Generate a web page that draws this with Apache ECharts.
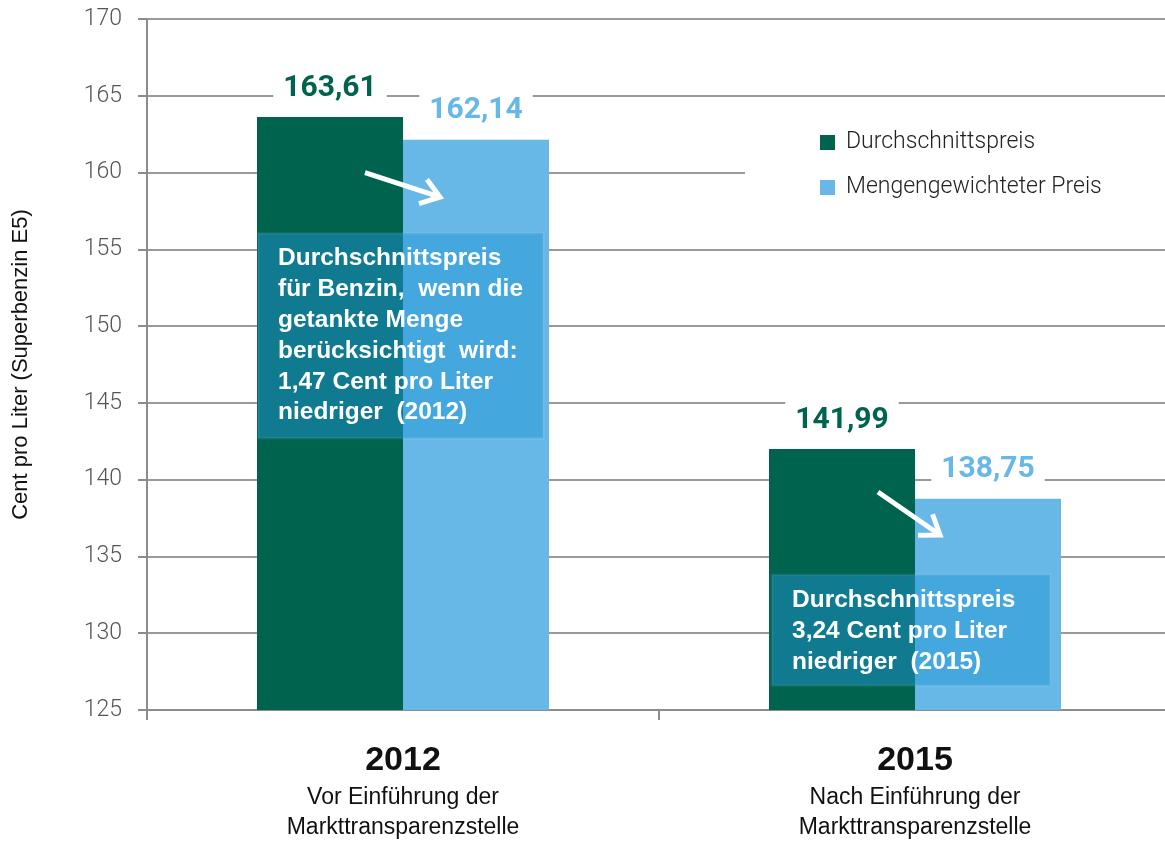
<!DOCTYPE html>
<html>
<head>
<meta charset="utf-8">
<script src="https://cdn.jsdelivr.net/npm/echarts@6/dist/echarts.min.js"></script>
<style>
  html, body { margin: 0; padding: 0; background: #fff; }
  #main { width: 1165px; height: 846px; }
</style>
</head>
<body>
<div id="main"></div>
<script>
// Kategorien + Untertitel
var years = ['2012', '2015'];
var yearNotes = [
    ['Vor Einführung der', 'Markttransparenzstelle'],
    ['Nach Einführung der', 'Markttransparenzstelle']
];
// Werte (Cent pro Liter)
var avgPrice = [163.61, 141.99];       // Durchschnittspreis
var weightedPrice = [162.14, 138.75];  // Mengengewichteter Preis
// Textkästen
var noteLines = [
    ['Durchschnittspreis', 'für Benzin,  wenn die', 'getankte Menge', 'berücksichtigt  wird:', '1,47 Cent pro Liter', 'niedriger  (2012)'],
    ['Durchschnittspreis', '3,24 Cent pro Liter', 'niedriger  (2015)']
];

var dark = '#00634e';
var light = '#67b8e6';

function fmt(v) {
    return v.toFixed(2).replace('.', ',');
}

var myChart = echarts.init(document.getElementById('main'));

myChart.setOption({
    animation: false,
    backgroundColor: '#fff',
    grid: {
        left: 147,
        top: 19,
        width: 1024,
        height: 691,
        containLabel: false,
        outerBoundsMode: 'none'
    },
    legend: {
        orient: 'vertical',
        left: 745,
        top: 107,
        padding: [24, 80, 24, 75],
        backgroundColor: '#fff',
        itemWidth: 15,
        itemHeight: 15,
        itemGap: 22,
        icon: 'rect',
        textStyle: {
            fontFamily: 'Roboto',
            fontWeight: 300,
            fontSize: 23,
            lineHeight: 22,
            color: '#222',
            padding: [0, 0, 0, 6]
        },
        data: ['Durchschnittspreis', 'Mengengewichteter Preis']
    },
    xAxis: {
        type: 'category',
        data: years,
        axisLine: { lineStyle: { color: '#8c8c8c', width: 2 } },
        axisTick: { show: true, length: 10, interval: 0, lineStyle: { color: '#8c8c8c', width: 2 } },
        axisLabel: {
            margin: 29,
            interval: 0,
            formatter: function (v, i) {
                return '{y|' + v + '}\n{s|' + yearNotes[i][0] + '}\n{s|' + yearNotes[i][1] + '}';
            },
            rich: {
                y: { fontFamily: 'Liberation Sans', fontWeight: 'bold', fontSize: 34, lineHeight: 44, color: '#111' },
                s: { fontFamily: 'Liberation Sans', fontSize: 23, lineHeight: 30, color: '#111' }
            }
        }
    },
    yAxis: {
        type: 'value',
        min: 125,
        max: 170,
        interval: 5,
        name: 'Cent pro Liter (Superbenzin E5)',
        nameLocation: 'middle',
        nameGap: 115,
        nameTextStyle: { fontFamily: 'Liberation Sans', fontSize: 22, color: '#111' },
        axisLine: { show: true, lineStyle: { color: '#8c8c8c', width: 2 } },
        axisTick: { show: true, length: 9, lineStyle: { color: '#8c8c8c', width: 2 } },
        axisLabel: {
            margin: 25,
            fontFamily: 'Roboto',
            fontWeight: 300,
            fontSize: 23,
            color: '#555'
        },
        splitLine: { lineStyle: { color: '#999', width: 2 } }
    },
    series: [
        {
            name: 'Durchschnittspreis',
            type: 'bar',
            data: avgPrice,
            barWidth: 146,
            barGap: '0%',
            itemStyle: { color: dark },
            label: {
                show: true,
                position: 'top',
                distance: 12,
                formatter: function (p) { return fmt(p.value); },
                fontFamily: 'Roboto',
                fontWeight: 'bold',
                fontSize: 30,
                lineHeight: 30,
                color: dark,
                backgroundColor: '#fff',
                padding: [4, 10, 2, 10]
            }
        },
        {
            name: 'Mengengewichteter Preis',
            type: 'bar',
            data: weightedPrice,
            barWidth: 146,
            itemStyle: { color: light },
            label: {
                show: true,
                position: 'top',
                distance: 12,
                formatter: function (p) { return fmt(p.value); },
                fontFamily: 'Roboto',
                fontWeight: 'bold',
                fontSize: 30,
                lineHeight: 30,
                color: light,
                backgroundColor: '#fff',
                padding: [4, 10, 2, 10]
            }
        }
    ]
});

// Annotationen (Kästen + Pfeile) an den Achsen ausrichten
function px(cat) { return myChart.convertToPixel({ xAxisIndex: 0 }, cat); }
function py(v) { return myChart.convertToPixel({ yAxisIndex: 0 }, v); }

var boxTop = [156.05, 133.8];
var boxBottom = [142.7, 126.6];
var boxLeft = [-145, -143];
var boxRight = [140, 135];
var arrowFrom = [[-38, 160.0], [-37, 139.2]];
var arrowTo = [[37, 158.4], [25, 136.4]];

var graphics = [];
for (var i = 0; i < years.length; i++) {
    var cx = px(years[i]);
    var t = py(boxTop[i]), b = py(boxBottom[i]);
    graphics.push({
        type: 'rect',
        z: 100,
        shape: { x: cx + boxLeft[i], y: t, width: boxRight[i] - boxLeft[i], height: b - t },
        style: { fill: 'rgba(33,148,215,0.49)', stroke: 'rgba(255,255,255,0.06)', lineWidth: 3 }
    });
    graphics.push({
        type: 'text',
        z: 101,
        x: cx + boxLeft[i] + 20,
        y: t + 10,
        style: {
            text: noteLines[i].join('\n'),
            fill: '#fff',
            font: 'bold 24.5px "Liberation Sans", Arial, sans-serif',
            lineHeight: 30.8
        }
    });
    // Pfeil
    var x1 = cx + arrowFrom[i][0], y1 = py(arrowFrom[i][1]);
    var x2 = cx + arrowTo[i][0], y2 = py(arrowTo[i][1]);
    var ang = Math.atan2(y2 - y1, x2 - x1);
    var hl = 22, ha = 0.62;
    graphics.push({
        type: 'polyline',
        z: 101,
        shape: { points: [[x1, y1], [x2 - 3 * Math.cos(ang), y2 - 3 * Math.sin(ang)]] },
        style: { stroke: '#fff', lineWidth: 5, fill: null }
    });
    graphics.push({
        type: 'polyline',
        z: 101,
        shape: {
            points: [
                [x2 - hl * Math.cos(ang - ha), y2 - hl * Math.sin(ang - ha)],
                [x2, y2],
                [x2 - hl * Math.cos(ang + ha), y2 - hl * Math.sin(ang + ha)]
            ]
        },
        style: { stroke: '#fff', lineWidth: 5, fill: null, lineJoin: 'miter' }
    });
}
myChart.setOption({ graphic: graphics });
</script>
</body>
</html>
